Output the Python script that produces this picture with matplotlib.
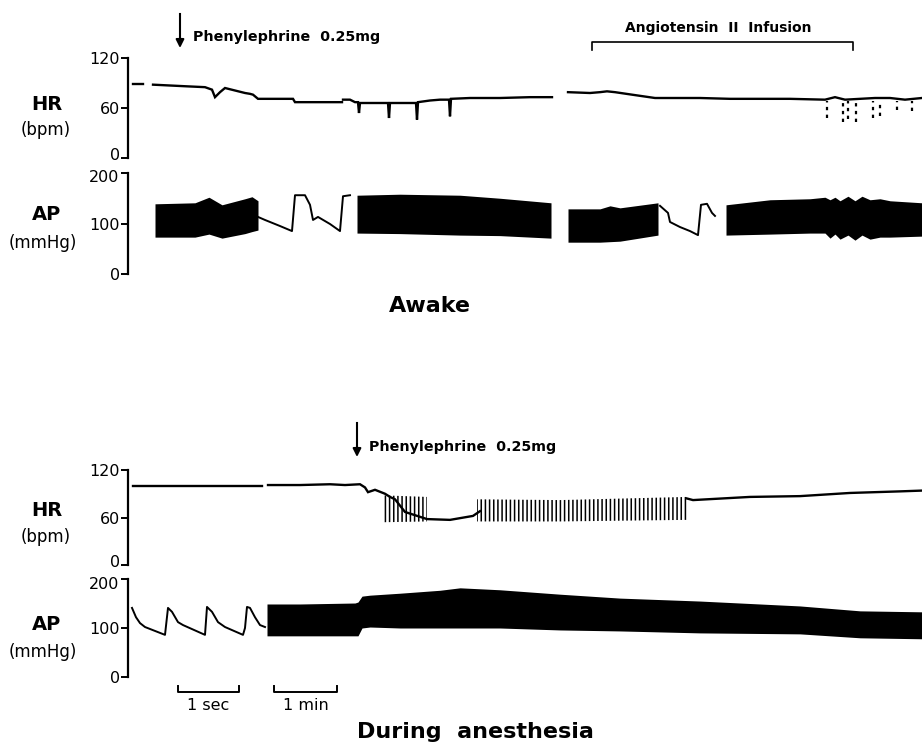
import matplotlib
matplotlib.use("Agg")
import matplotlib.pyplot as plt
import matplotlib.transforms as mtransforms
from matplotlib.lines import Line2D

W, H = 922, 745

# ---- Awake: heart rate (bpm), chart position in arbitrary units ----
hr_aw_dash_t = [133, 143]
hr_aw_dash_v = [89, 89]
hr_aw1_t = [153, 170, 187, 205, 212, 215, 220, 225, 235, 245, 250, 253, 256, 258, 293, 295, 342]
hr_aw1_v = [88, 87, 86, 85, 82, 73, 79, 84, 81, 78, 77, 76, 73, 71, 71, 67, 67]
hr_aw2_t = [343, 350, 355, 358, 359, 360, 375, 388, 389, 390, 400, 416, 417, 418,
            430, 440, 449, 450, 451, 470, 500, 530, 552]
hr_aw2_v = [70, 70, 67, 67, 54, 66, 66, 66, 48, 66, 66, 66, 46, 67,
            69, 70, 70, 50, 71, 72, 72, 73, 73]
hr_aw3_t = [568, 590, 600, 607, 615, 632, 655, 700, 730, 760, 790, 825, 835,
            845, 860, 875, 890, 905, 922]
hr_aw3_v = [79, 78, 79, 80, 79, 76, 72, 72, 71, 71, 71, 70, 73, 70, 71, 72, 72, 70, 72]
# dropped beats during angiotensin infusion
hr_aw_drop_t = [827, 843, 848, 856, 873, 880, 897, 912]
hr_aw_drop_v = [48, 43, 47, 43, 48, 50, 58, 57]

# ---- Awake: arterial pressure (mmHg) ----
ap_aw_b1_t = [155, 195, 209, 222, 245, 252, 258]
ap_aw_b1_hi = [139, 141, 152, 137, 149, 153, 145]
ap_aw_b1_lo = [73, 73, 79, 71, 80, 84, 87]
ap_aw_tr1_t = [258, 265, 280, 292, 295, 305, 310, 313, 318, 330, 340, 343, 350]
ap_aw_tr1_v = [113, 107, 95, 85, 156, 156, 137, 107, 113, 99, 85, 154, 156]
ap_aw_b2_t = [357, 400, 460, 500, 551]
ap_aw_b2_hi = [156, 158, 156, 150, 141]
ap_aw_b2_lo = [81, 80, 77, 76, 71]
ap_aw_b3_t = [568, 600, 610, 620, 658]
ap_aw_b3_hi = [129, 129, 135, 131, 141]
ap_aw_b3_lo = [63, 63, 64, 65, 77]
ap_aw_tr2_t = [660, 668, 670, 680, 690, 698, 701, 707, 712, 715]
ap_aw_tr2_v = [135, 121, 103, 93, 85, 77, 137, 139, 121, 115]
ap_aw_b4_t = [726, 770, 810, 825, 830, 835, 840, 848, 855, 862, 870, 880, 890, 922]
ap_aw_b4_hi = [137, 147, 149, 152, 147, 152, 145, 154, 145, 154, 147, 149, 145, 141]
ap_aw_b4_lo = [77, 79, 81, 81, 71, 79, 69, 77, 67, 77, 69, 73, 73, 75]

# ---- During anesthesia: heart rate ----
hr_an1_t = [133, 262]
hr_an1_v = [100, 100]
hr_an2_t = [268, 300, 330, 345, 360, 365, 368, 375, 385, 390, 395, 405, 427, 450, 473, 480]
hr_an2_v = [101, 101, 102, 101, 102, 98, 92, 95, 90, 86, 83, 67, 58, 57, 62, 68]
hr_an3_t = [687, 693, 750, 800, 850, 900, 922]
hr_an3_v = [84, 82, 86, 87, 91, 93, 94]
# beat-to-beat oscillation envelopes
hr_an_osc1_t = [383, 427]
hr_an_osc1_hi = [88, 86]
hr_an_osc1_lo = [54, 55]
hr_an_osc2_t = [477, 560, 687]
hr_an_osc2_hi = [83, 82, 86]
hr_an_osc2_lo = [55, 55, 57]

# ---- During anesthesia: arterial pressure ----
ap_an_tr_t = [132, 136, 140, 145, 165, 168, 172, 178, 183, 205, 207, 212, 218, 225,
              243, 245, 247, 250, 255, 260, 265]
ap_an_tr_v = [141, 122, 110, 102, 86, 141, 133, 112, 106, 86, 143, 133, 112, 102,
              86, 100, 143, 141, 122, 106, 102]
ap_an_b_t = [267, 300, 355, 358, 362, 370, 400, 440, 460, 500, 560, 620, 700, 800, 860, 922]
ap_an_b_hi = [149, 149, 151, 153, 165, 167, 171, 177, 182, 178, 169, 161, 155, 145, 135, 133]
ap_an_b_lo = [84, 84, 84, 84, 100, 102, 100, 100, 100, 100, 96, 94, 90, 88, 80, 78]

hr_ticks = [0, 60, 120]
ap_ticks = [0, 100, 200]

plt.rcParams["hatch.linewidth"] = 1.1

fig = plt.figure(figsize=(W / 100, H / 100), dpi=100)


def fx(px):
    return px / W


def fy(py):
    return 1 - py / H


def strip(zero_px, top_px, top_val, ticks):
    # zero_px / top_px: pixel rows of the axis 0 and top tick
    ax = fig.add_axes([0, fy(zero_px), 1, (zero_px - top_px) / H])
    ax.set_xlim(0, W)
    ax.set_ylim(0, top_val)
    for s in ["top", "right", "bottom"]:
        ax.spines[s].set_visible(False)
    ax.spines["left"].set_position(("data", 128))
    ax.spines["left"].set_bounds(0, top_val)
    ax.spines["left"].set_linewidth(1.6)
    ax.set_xticks([])
    ax.set_yticks(ticks)
    ax.tick_params(axis="y", direction="out", length=5, width=1.4, pad=1, labelsize=11.5)
    ax.patch.set_alpha(0)
    return ax


def nudge(ax, idx, dy_px):
    # shift one tick label vertically (keeps stacked 0 / 200 labels apart)
    lbl = ax.get_yticklabels()[idx]
    lbl.set_transform(lbl.get_transform()
                      + mtransforms.ScaledTranslation(0, dy_px / 100, fig.dpi_scale_trans))


trace = dict(color="black", lw=1.7, solid_joinstyle="miter")

# Awake HR
ax = strip(158, 58, 120, hr_ticks)
ax.plot(hr_aw_dash_t, hr_aw_dash_v, **trace)
ax.plot(hr_aw1_t, hr_aw1_v, **trace)
ax.plot(hr_aw2_t, hr_aw2_v, **trace)
ax.plot(hr_aw3_t, hr_aw3_v, **trace)
ax.vlines(hr_aw_drop_t, hr_aw_drop_v, 68, colors="black", lw=1.6, linestyles=(0, (1.5, 2)))
nudge(ax, 0, 4)

# Awake AP
ax = strip(274, 173, 200, ap_ticks)
ax.fill_between(ap_aw_b1_t, ap_aw_b1_lo, ap_aw_b1_hi, color="black", lw=0)
ax.fill_between(ap_aw_b2_t, ap_aw_b2_lo, ap_aw_b2_hi, color="black", lw=0)
ax.fill_between(ap_aw_b3_t, ap_aw_b3_lo, ap_aw_b3_hi, color="black", lw=0)
ax.fill_between(ap_aw_b4_t, ap_aw_b4_lo, ap_aw_b4_hi, color="black", lw=0)
ax.plot(ap_aw_tr1_t, ap_aw_tr1_v, color="black", lw=1.4)
ax.plot(ap_aw_tr2_t, ap_aw_tr2_v, color="black", lw=1.4)
nudge(ax, 2, -3)

# Anesthesia HR
ax = strip(565, 470, 120, hr_ticks)
ax.plot(hr_an1_t, hr_an1_v, **trace)
ax.plot(hr_an2_t, hr_an2_v, **trace)
ax.plot(hr_an3_t, hr_an3_v, **trace)
ax.fill_between(hr_an_osc1_t, hr_an_osc1_lo, hr_an_osc1_hi, facecolor="none",
                edgecolor="black", hatch="||||", lw=0)
ax.fill_between(hr_an_osc2_t, hr_an_osc2_lo, hr_an_osc2_hi, facecolor="none",
                edgecolor="black", hatch="||||", lw=0)
nudge(ax, 0, 4)

# Anesthesia AP
ax = strip(677, 579, 200, ap_ticks)
ax.plot(ap_an_tr_t, ap_an_tr_v, color="black", lw=1.4)
ax.fill_between(ap_an_b_t, ap_an_b_lo, ap_an_b_hi, color="black", lw=0)
nudge(ax, 2, -4)

# labels at left
lab = dict(ha="center", va="center", color="black")
for y_hr, y_bpm, y_ap, y_mm in [(105, 130, 215, 243), (510, 537, 625, 652)]:
    fig.text(fx(47), fy(y_hr), "HR", fontsize=14, fontweight="bold", **lab)
    fig.text(fx(46), fy(y_bpm), "(bpm)", fontsize=12, **lab)
    fig.text(fx(47), fy(y_ap), "AP", fontsize=14, fontweight="bold", **lab)
    fig.text(fx(43), fy(y_mm), "(mmHg)", fontsize=12, **lab)

# injection markers
for x_arr, y1, y2 in [(180, 14, 48), (357, 423, 457)]:
    fig.add_artist(Line2D([fx(x_arr), fx(x_arr)], [fy(y1), fy(y2 - 8)],
                          color="black", lw=1.5, transform=fig.transFigure))
    ax.annotate("", xy=(fx(x_arr), fy(y2)), xytext=(fx(x_arr), fy(y2 - 11)),
                xycoords="figure fraction", textcoords="figure fraction",
                arrowprops=dict(arrowstyle="-|>", color="black", lw=1.5,
                                mutation_scale=12, shrinkA=0, shrinkB=0))
fig.text(fx(193), fy(37), "Phenylephrine  0.25mg", fontsize=10.3, fontweight="bold",
         ha="left", va="center")
fig.text(fx(369), fy(447), "Phenylephrine  0.25mg", fontsize=10.3, fontweight="bold",
         ha="left", va="center")

# angiotensin infusion bracket
fig.text(fx(718), fy(28), "Angiotensin  II  Infusion", fontsize=10, fontweight="bold",
         ha="center", va="center")
fig.add_artist(Line2D([fx(592), fx(592), fx(853), fx(853)],
                      [fy(50), fy(42), fy(42), fy(50)],
                      color="black", lw=1.2, transform=fig.transFigure))

# time scale bars
for x0, x1, label in [(178, 239, "1 sec"), (274, 337, "1 min")]:
    fig.add_artist(Line2D([fx(x0), fx(x0), fx(x1), fx(x1)],
                          [fy(686), fy(692), fy(692), fy(686)],
                          color="black", lw=1.4, transform=fig.transFigure))
    fig.text(fx((x0 + x1) / 2), fy(705), label, fontsize=11.5, ha="center", va="center")

# condition titles
fig.text(fx(430), fy(306), "Awake", fontsize=16, fontweight="bold", ha="center", va="center")
fig.text(fx(475), fy(732), "During  anesthesia", fontsize=16, fontweight="bold",
         ha="center", va="center")

fig.savefig("out.png", dpi=100)
